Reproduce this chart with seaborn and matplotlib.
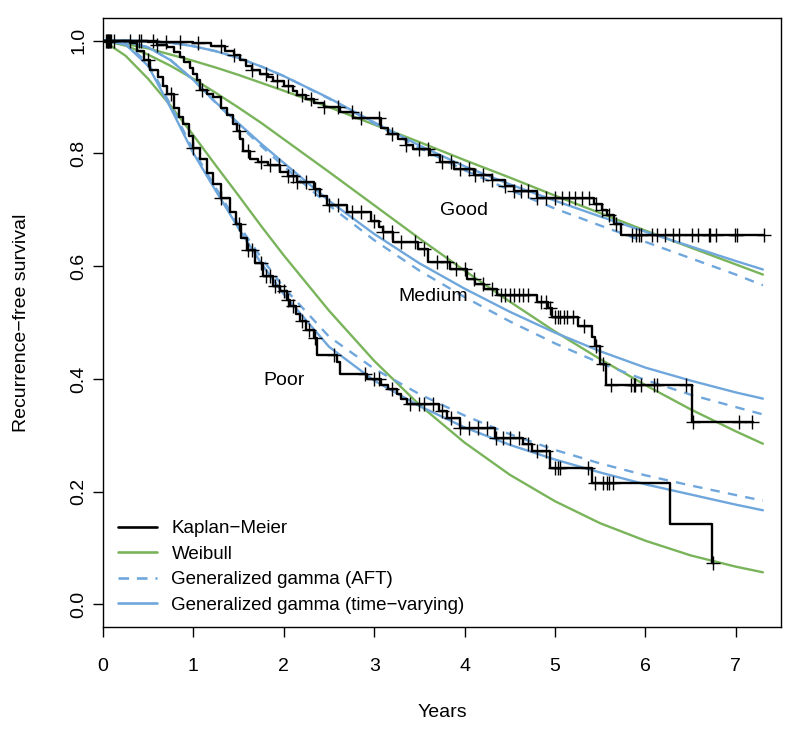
import numpy as np
import pandas as pd
import matplotlib
matplotlib.use("Agg")
import matplotlib.pyplot as plt
from matplotlib.lines import Line2D
import seaborn as sns

# time grid used for the fitted (parametric) curves, years
t_grid = [0, 0.25, 0.5, 0.75, 1.0, 1.25, 1.5, 1.75, 2.0, 2.5, 3.0, 3.5,
          4.0, 4.5, 5.0, 5.5, 6.0, 6.5, 7.0, 7.3]

# Weibull fits
weib_good = [1.0, 0.994, 0.986, 0.975, 0.964, 0.952, 0.939, 0.925, 0.911, 0.882,
             0.851, 0.820, 0.788, 0.757, 0.725, 0.694, 0.663, 0.633, 0.603, 0.585]
weib_medium = [1.0, 0.991, 0.975, 0.955, 0.932, 0.907, 0.881, 0.854, 0.825, 0.767,
               0.708, 0.649, 0.592, 0.537, 0.484, 0.435, 0.389, 0.346, 0.307, 0.285]
weib_poor = [1.0, 0.973, 0.932, 0.884, 0.832, 0.778, 0.725, 0.671, 0.619, 0.521,
             0.432, 0.354, 0.287, 0.230, 0.183, 0.144, 0.113, 0.087, 0.067, 0.057]

# generalized gamma, AFT model (dashed)
gg_aft_good = [1.0, 1.0, 0.999, 0.996, 0.990, 0.981, 0.969, 0.954, 0.937, 0.897,
               0.853, 0.810, 0.770, 0.735, 0.702, 0.672, 0.643, 0.614, 0.585, 0.566]
gg_aft_medium = [1.0, 0.998, 0.988, 0.965, 0.930, 0.889, 0.851, 0.813, 0.777, 0.708,
                 0.646, 0.592, 0.545, 0.502, 0.463, 0.428, 0.398, 0.372, 0.350, 0.337]
gg_aft_poor = [1.0, 0.995, 0.960, 0.885, 0.805, 0.738, 0.673, 0.615, 0.562, 0.475,
               0.418, 0.373, 0.335, 0.302, 0.274, 0.250, 0.229, 0.211, 0.194, 0.184]

# generalized gamma, time-varying model (solid)
gg_tv_good = [1.0, 1.0, 0.999, 0.996, 0.990, 0.981, 0.969, 0.954, 0.937, 0.898,
              0.855, 0.814, 0.777, 0.745, 0.716, 0.688, 0.661, 0.635, 0.609, 0.594]
gg_tv_medium = [1.0, 0.998, 0.988, 0.965, 0.930, 0.890, 0.853, 0.817, 0.783, 0.716,
                0.657, 0.605, 0.560, 0.519, 0.482, 0.449, 0.420, 0.397, 0.376, 0.365]
gg_tv_poor = [1.0, 0.993, 0.955, 0.880, 0.800, 0.733, 0.667, 0.605, 0.550, 0.457,
              0.397, 0.352, 0.314, 0.283, 0.257, 0.234, 0.213, 0.195, 0.177, 0.167]

# Kaplan-Meier step points (time, survival after that time)
km_good_t = [0, 0.6, 1.0, 1.2, 1.35, 1.45, 1.52, 1.58, 1.65, 1.74, 1.82, 1.88, 2.0,
             2.1, 2.15, 2.25, 2.33, 2.45, 2.62, 2.77, 3.07, 3.15, 3.26, 3.35, 3.43,
             3.62, 3.73, 3.88, 4.1, 4.3, 4.45, 4.55, 4.8, 5.43, 5.52, 5.58, 5.65, 5.73]
km_good_s = [1.0, 0.997, 0.995, 0.99, 0.982, 0.975, 0.965, 0.955, 0.948, 0.94, 0.935,
             0.929, 0.92, 0.91, 0.903, 0.897, 0.89, 0.883, 0.873, 0.862, 0.845, 0.835,
             0.825, 0.815, 0.807, 0.797, 0.785, 0.772, 0.761, 0.752, 0.742, 0.733,
             0.72, 0.71, 0.70, 0.69, 0.675, 0.655]
km_good_end = 7.31

km_medium_t = [0, 0.5, 0.6, 0.71, 0.78, 0.85, 0.9, 0.96, 1.0, 1.04, 1.07, 1.15, 1.22,
               1.3, 1.37, 1.44, 1.48, 1.52, 1.55, 1.63, 1.72, 1.82, 1.96, 2.05, 2.15,
               2.33, 2.4, 2.48, 2.7, 2.96, 3.05, 3.1, 3.21, 3.48, 3.59, 3.84, 4.03,
               4.12, 4.21, 4.36, 4.8, 4.92, 4.97, 5.25, 5.41, 5.44, 5.5, 5.56, 6.51]
km_medium_s = [1.0, 0.997, 0.993, 0.988, 0.98, 0.97, 0.962, 0.952, 0.94, 0.93, 0.912,
               0.905, 0.9, 0.88, 0.868, 0.852, 0.84, 0.825, 0.805, 0.79, 0.785, 0.779,
               0.767, 0.76, 0.75, 0.737, 0.725, 0.708, 0.696, 0.68, 0.67, 0.66, 0.643,
               0.631, 0.608, 0.595, 0.578, 0.568, 0.56, 0.549, 0.537, 0.525, 0.51,
               0.493, 0.475, 0.459, 0.426, 0.389, 0.323]
km_medium_end = 7.19

km_poor_t = [0, 0.3, 0.38, 0.45, 0.52, 0.61, 0.66, 0.71, 0.78, 0.84, 0.89, 0.95, 1.0,
             1.07, 1.15, 1.22, 1.3, 1.41, 1.47, 1.53, 1.59, 1.68, 1.77, 1.88, 1.96,
             2.03, 2.07, 2.13, 2.18, 2.25, 2.33, 2.37, 2.59, 2.62, 2.92, 3.07, 3.15,
             3.25, 3.3, 3.36, 3.72, 3.8, 3.95, 4.34, 4.65, 4.75, 4.95, 5.41, 6.27, 6.74]
km_poor_s = [1.0, 0.995, 0.982, 0.965, 0.947, 0.935, 0.92, 0.905, 0.88, 0.865, 0.852,
             0.83, 0.81, 0.79, 0.765, 0.745, 0.72, 0.696, 0.675, 0.65, 0.628, 0.605,
             0.582, 0.565, 0.556, 0.54, 0.53, 0.515, 0.502, 0.487, 0.472, 0.443, 0.43,
             0.408, 0.40, 0.39, 0.382, 0.373, 0.365, 0.355, 0.343, 0.33, 0.313, 0.295,
             0.284, 0.272, 0.242, 0.216, 0.143, 0.074]
km_poor_end = 6.75

# censoring times
cens_good = [0.03, 0.06, 0.09, 0.12, 0.3, 0.42, 0.55, 0.7, 0.85, 1.05, 1.3, 1.45, 1.65,
             1.8, 1.92, 2.05, 2.2, 2.3, 2.45, 2.6, 2.75, 2.85, 3.05, 3.2, 3.35, 3.5,
             3.6, 3.75, 3.85, 3.95, 4.05, 4.12, 4.2, 4.3, 4.45, 4.55, 4.62, 4.7, 4.8,
             4.9, 5.0, 5.08, 5.15, 5.22, 5.3, 5.38, 5.45, 5.52, 5.6, 5.68, 5.85, 5.9,
             5.93, 5.95, 6.07, 6.13, 6.22, 6.30, 6.37, 6.51, 6.58, 6.70, 6.72, 6.78,
             6.99, 7.01, 7.31]
cens_medium = [0.05, 0.08, 0.4, 0.6, 1.1, 1.5, 1.6, 1.75, 1.85, 1.95, 2.05, 2.1, 2.15,
               2.25, 2.35, 2.5, 2.6, 2.75, 2.85, 3.0, 3.1, 3.2, 3.3, 3.45, 3.55, 3.7,
               3.8, 3.9, 4.0, 4.1, 4.2, 4.3, 4.4, 4.45, 4.5, 4.55, 4.6, 4.65, 4.7,
               4.85, 4.9, 4.95, 5.0, 5.03, 5.06, 5.1, 5.13, 5.2, 5.32, 5.45, 5.53,
               5.62, 5.84, 5.87, 5.89, 5.95, 6.10, 6.13, 6.45, 6.53, 7.04, 7.18]
cens_poor = [0.04, 0.07, 0.5, 0.75, 1.0, 1.3, 1.5, 1.6, 1.65, 1.75, 1.8, 1.85, 1.9,
             1.95, 2.0, 2.05, 2.1, 2.2, 2.28, 2.35, 2.55, 2.9, 3.0, 3.05, 3.2, 3.4,
             3.5, 3.55, 3.65, 3.75, 3.85, 3.95, 4.05, 4.15, 4.25, 4.35, 4.42, 4.5,
             4.6, 4.7, 4.8, 4.9, 5.0, 5.03, 5.06, 5.36, 5.44, 5.53, 5.57, 5.6, 5.64,
             6.75]

group_names = ["Good", "Medium", "Poor"]
label_pos = {"Good": (3.99, 0.698), "Medium": (3.65, 0.546), "Poor": (2.0, 0.398)}

GREEN = "#79b45b"
BLUE = "#6fa7dc"
FS = 14

sns.set_theme(style="ticks")
plt.rcParams['font.family'] = ['Liberation Sans', 'DejaVu Sans']
plt.rcParams.update({"text.color": "black", "axes.labelcolor": "black",
                     "xtick.color": "black", "ytick.color": "black"})

fig = plt.figure(figsize=(8, 7.32), dpi=100)
ax = fig.add_axes([103 / 800, 105 / 732, 678 / 800, 609 / 732])

fits = pd.DataFrame({"t": t_grid})
for name, w, ga, gt in [("Good", weib_good, gg_aft_good, gg_tv_good),
                        ("Medium", weib_medium, gg_aft_medium, gg_tv_medium),
                        ("Poor", weib_poor, gg_aft_poor, gg_tv_poor)]:
    sns.lineplot(x=fits["t"], y=w, color=GREEN, lw=1.7, estimator=None, ax=ax)
    sns.lineplot(x=fits["t"], y=ga, color=BLUE, lw=1.7, estimator=None, ax=ax,
                 dashes=False, linestyle=(0, (4, 3.5)))
    sns.lineplot(x=fits["t"], y=gt, color=BLUE, lw=1.7, estimator=None, ax=ax)

km = [(km_good_t, km_good_s, km_good_end, cens_good),
      (km_medium_t, km_medium_s, km_medium_end, cens_medium),
      (km_poor_t, km_poor_s, km_poor_end, cens_poor)]
for kt, ks, kend, cens in km:
    tt = np.array(kt + [kend])
    ss = np.array(ks + [ks[-1]])
    sns.lineplot(x=tt, y=ss, drawstyle="steps-post", color="black", lw=1.7,
                 estimator=None, sort=False, ax=ax)
    c = np.array(cens)
    cy = np.array(ks)[np.searchsorted(kt, c, side="right") - 1]
    sns.scatterplot(x=c, y=cy, marker="+", s=100, color="black", linewidth=1.0,
                    ax=ax, zorder=5)

for name in group_names:
    x, y = label_pos[name]
    ax.text(x, y, name, ha="center", va="center", fontsize=FS)

ax.set_xlim(0, 7.5)
ax.set_ylim(-0.04, 1.04)
ax.set_xticks(range(8))
ax.set_yticks([0, 0.2, 0.4, 0.6, 0.8, 1.0])
ax.set_yticklabels(["0.0", "0.2", "0.4", "0.6", "0.8", "1.0"], rotation=90, va="center")
ax.tick_params(direction="out", length=7, width=1, labelsize=FS)
ax.tick_params(axis="x", pad=15)
ax.tick_params(axis="y", pad=4)
for s in ax.spines.values():
    s.set_color("black")
    s.set_linewidth(1)
ax.set_xlabel("Years", fontsize=FS, labelpad=21)
ax.set_ylabel("Recurrence\u2212free survival", fontsize=FS, labelpad=29)

handles = [Line2D([], [], color="black", lw=1.9),
           Line2D([], [], color=GREEN, lw=1.9),
           Line2D([], [], color=BLUE, lw=1.9, linestyle=(0, (4, 3))),
           Line2D([], [], color=BLUE, lw=1.9)]
labels = ["Kaplan\u2212Meier", "Weibull", "Generalized gamma (AFT)",
          "Generalized gamma (time\u2212varying)"]
ax.legend(handles, labels, loc="lower left", bbox_to_anchor=(0.0, -0.003),
          frameon=False, fontsize=13.5, handlelength=2.1, handletextpad=0.75,
          labelspacing=0.45, borderpad=0.3)

fig.savefig("out.png", dpi=100)
